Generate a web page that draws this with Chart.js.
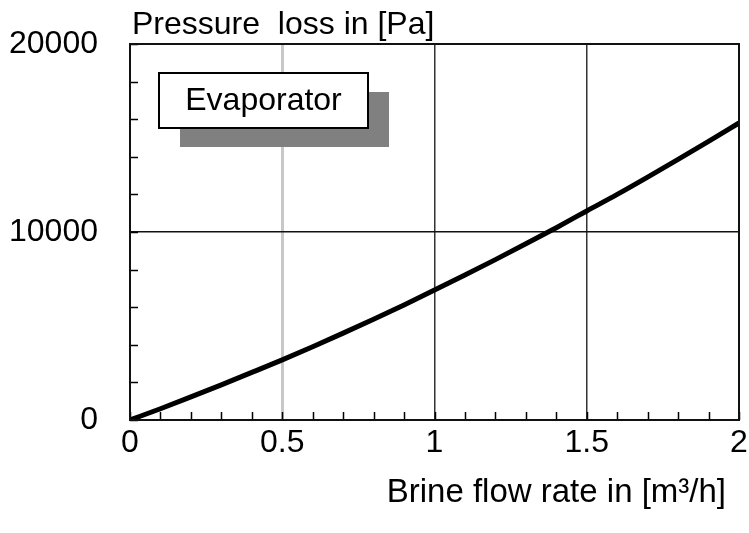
<!DOCTYPE html>
<html>
<head>
<meta charset="utf-8">
<script src="https://cdn.jsdelivr.net/npm/chart.js@4/dist/chart.umd.min.js"></script>
<style>
html,body{margin:0;padding:0;background:#fff;}
#wrap{width:749px;height:533px;position:relative;}
</style>
</head>
<body>
<div id="wrap"><canvas id="c" width="749" height="533"></canvas></div>
<script>
// Data
const flowRate     = [0, 0.1, 0.2, 0.3, 0.4, 0.5, 0.6, 0.7, 0.8, 0.9, 1.0, 1.1, 1.2, 1.3, 1.4, 1.5, 1.6, 1.7, 1.8, 1.9, 2.0];
const pressureLoss = [0, 600, 1230, 1870, 2530, 3200, 3900, 4620, 5360, 6120, 6910, 7710, 8530, 9370, 10230, 11120, 12000, 12920, 13860, 14820, 15800];
const xTickLabels  = ['0', '0.5', '1', '1.5', '2'];
const yTickLabels  = ['0', '10000', '20000'];
const seriesName   = 'Evaporator';
const yTitle       = 'Pressure  loss in [Pa]';
const xTitle       = 'Brine flow rate in [m³/h]';

const FONT = '"Liberation Sans", Arial, sans-serif';
const FS = 32;

function near(v, step) { return Math.abs(v / step - Math.round(v / step)) < 1e-6; }

const framePlugin = {
  id: 'frame',
  afterDatasetsDraw(chart) {
    const {ctx, chartArea: a, scales: {x, y}} = chart;
    ctx.save();
    // inward minor ticks
    ctx.strokeStyle = '#000';
    ctx.lineWidth = 1.5;
    ctx.beginPath();
    x.ticks.forEach(t => {
      const px = Math.round(x.getPixelForValue(t.value)) + 0.5;
      ctx.moveTo(px, a.bottom); ctx.lineTo(px, a.bottom - 8);
    });
    y.ticks.forEach(t => {
      const py = Math.round(y.getPixelForValue(t.value)) + 0.5;
      ctx.moveTo(a.left, py); ctx.lineTo(a.left + 8, py);
    });
    ctx.stroke();
    // frame
    ctx.lineWidth = 2;
    ctx.strokeStyle = '#111';
    ctx.strokeRect(a.left, a.top, a.right - a.left, a.bottom - a.top);
    // legend box with shadow
    const bx = a.left + 29, by = a.top + 29, bw = 209, bh = 55;
    ctx.fillStyle = '#808080';
    ctx.fillRect(bx + 21, by + 19, bw, bh);
    ctx.fillStyle = '#fff';
    ctx.fillRect(bx, by, bw, bh);
    ctx.lineWidth = 2;
    ctx.strokeStyle = '#000';
    ctx.strokeRect(bx, by, bw, bh);
    ctx.fillStyle = '#000';
    ctx.font = FS + 'px ' + FONT;
    ctx.textAlign = 'center';
    ctx.textBaseline = 'middle';
    ctx.fillText(seriesName, bx + bw / 2, by + bh / 2 + 1);
    // axis titles
    ctx.textAlign = 'left';
    ctx.fillText(yTitle, a.left + 2, a.top - 19);
    ctx.textAlign = 'right';
    ctx.font = '33px ' + FONT;
    ctx.fillText(xTitle, a.right - 13, a.bottom + 73);
    ctx.restore();
  }
};

new Chart(document.getElementById('c'), {
  type: 'line',
  data: {
    datasets: [{
      label: seriesName,
      data: flowRate.map((q, i) => ({x: q, y: pressureLoss[i]})),
      borderColor: '#000',
      borderWidth: 5,
      pointRadius: 0,
      cubicInterpolationMode: 'monotone',
      fill: false
    }]
  },
  options: {
    responsive: false,
    animation: false,
    layout: {padding: {left: 0, right: 10, top: 44, bottom: 0}},
    plugins: {legend: {display: false}, tooltip: {enabled: false}},
    scales: {
      x: {
        type: 'linear', min: 0, max: 2,
        afterFit(s) { s.height = 113; s.paddingLeft = 0; s.paddingRight = 0; },
        border: {display: false},
        grid: {
          drawTicks: false,
          color: c => { const v = c.tick.value; if (v <= 1e-6 || v >= 2 - 1e-6 || !near(v, 0.5)) return 'rgba(0,0,0,0)'; return Math.abs(v - 0.5) < 1e-6 ? '#c8c8c8' : '#333'; },
          lineWidth: c => (Math.abs(c.tick.value - 0.5) < 1e-6 ? 3 : 1.5)
        },
        ticks: {
          stepSize: 0.1, autoSkip: false, maxRotation: 0, padding: 4,
          color: '#000', font: {family: FONT, size: FS},
          callback: v => near(v, 0.5) ? xTickLabels[Math.round(v * 2)] : ''
        }
      },
      y: {
        type: 'linear', min: 0, max: 20000,
        afterFit(s) { s.width = 130; s.paddingTop = 0; s.paddingBottom = 0; },
        border: {display: false},
        grid: {
          drawTicks: false,
          color: c => (c.tick.value === 10000 ? '#111' : 'rgba(0,0,0,0)'),
          lineWidth: 1.5
        },
        ticks: {
          stepSize: 2000, autoSkip: false, padding: 32,
          color: '#000', font: {family: FONT, size: FS},
          callback: v => near(v, 10000) ? yTickLabels[Math.round(v / 10000)] : ''
        }
      }
    }
  },
  plugins: [framePlugin]
});
</script>
</body>
</html>
